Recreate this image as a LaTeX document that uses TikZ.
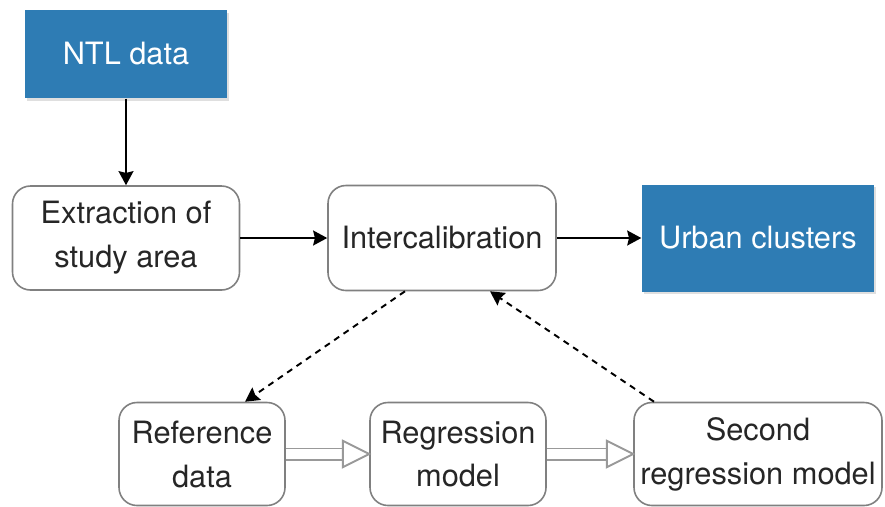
\documentclass[tikz,border=0pt]{standalone}
\usepackage{fontspec}
\setmainfont{TeX Gyre Heros}
\usetikzlibrary{arrows.meta, decorations.markings, positioning, shadows}
\definecolor{ntlblue}{RGB}{46,124,180}
\tikzstyle{blueBox} = [rectangle, fill=ntlblue, text=white, align=center,
   font=\fontsize{17.5}{25}\selectfont,
   drop shadow={opacity=0.25, shadow xshift=0.03cm, shadow yshift=-0.05cm}]
\tikzstyle{roundBox} = [rectangle, draw=black!50, line width=0.9pt, rounded corners=0.36cm,
   fill=white, text=black!85, align=center, font=\fontsize{17.5}{25}\selectfont]
\tikzstyle{flowArrow} = [line width=1.1pt, -{Stealth[length=8pt, width=8.5pt, inset=1pt]}]
\tikzstyle{dashArrow} = [flowArrow, dash pattern=on 3.5pt off 3pt]
\tikzstyle{vecArrow} = [draw=black!40, line width=1.1pt, double=white, double distance=5.2pt,
   shorten >= 13pt,
   decoration={markings, mark=at position 1 with {\draw[black!40, line width=1.1pt, fill=white,
      shorten >=0pt] (0,0) -- (-15pt,7.5pt) -- (-15pt,-7.5pt) -- cycle;}},
   postaction = {decorate}]

\begin{document}
\begin{tikzpicture}[thick]
  \fill[white] (0,0) rectangle (17.7,-10.12);
  \useasboundingbox (0,0) rectangle (17.7,-10.12);

  \node[blueBox, minimum width=4.04cm, minimum height=1.76cm] (node_NTL) at (2.52,-1.08) {NTL data};
  \node[roundBox, minimum width=4.54cm, minimum height=2.08cm, below of=node_NTL, yshift=-2.68cm] (node_extr) {Extraction of\\study area};
  \node[roundBox, minimum width=4.56cm, minimum height=2.1cm, right of=node_extr, xshift=5.32cm] (node_inter) {Intercalibration};
  \node[blueBox, minimum width=4.64cm, minimum height=2.14cm, right of=node_inter, xshift=5.32cm] (node_urban) {Urban clusters};

  % bottom row
  \node[roundBox, minimum width=3.32cm, minimum height=2.06cm, below of=node_extr, xshift=1.52cm, yshift=-3.32cm] (node_ref) {Reference\\data};
  \node[roundBox, minimum width=3.52cm, minimum height=2.06cm, right of=node_ref, xshift=4.12cm] (node_regr) {Regression\\model};
  \node[roundBox, minimum width=4.96cm, minimum height=2.06cm, right of=node_regr, xshift=5cm] (node_second) {Second\\regression model};

  % solid arrows
  \draw[flowArrow] (node_NTL) -- (node_extr);
  \draw[flowArrow] (node_extr) -- (node_inter);
  \draw[flowArrow] (node_inter) -- (node_urban);

  % dashed loop
  \draw[dashArrow] ([xshift=-0.74cm]node_inter.south) -- ([xshift=0.86cm]node_ref.north);
  \draw[dashArrow] ([xshift=-2.08cm]node_second.north) -- ([xshift=0.96cm]node_inter.south);

  % hollow arrows
  \draw[vecArrow] (node_ref) -- (node_regr);
  \draw[vecArrow] (node_regr) -- (node_second);
\end{tikzpicture}
\end{document}
